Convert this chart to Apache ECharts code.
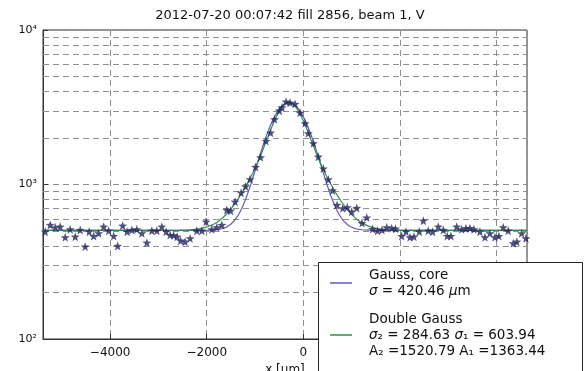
<!DOCTYPE html>
<html>
<head>
<meta charset="utf-8">
<script src="https://cdn.jsdelivr.net/npm/echarts@6/dist/echarts.min.js"></script>
<style>
  html, body { margin: 0; padding: 0; background: #fff; }
  #chart { width: 585px; height: 371px; }
</style>
</head>
<body>
<div id="chart"></div>
<script>
// Measured beam profile: position [um] and counts
const positions = [
  -5344, -5241, -5137, -5034, -4930, -4827, -4723, -4620, -4517, -4434,
  -4341, -4237, -4134, -4030, -3927, -3844, -3741, -3648, -3550, -3447,
  -3343, -3240, -3137, -3033, -2930, -2841, -2758, -2686, -2613, -2541,
  -2448, -2344, -2206, -2102, -2013, -1895, -1792, -1688, -1585, -1506,
  -1413, -1289, -1196, -1103, -989, -886, -772, -679, -596, -497,
  -441, -358, -275, -172, -68, 35, 103, 207, 310, 414,
  517, 604, 697, 815, 910, 1001, 1105, 1215, 1312, 1432,
  1535, 1628, 1726, 1829, 1908, 2036, 2125, 2208, 2290, 2400,
  2483, 2586, 2677, 2793, 2897, 2979, 3056, 3174, 3277, 3366,
  3449, 3532, 3656, 3759, 3863, 3966, 4049, 4138, 4241, 4345,
  4421, 4519, 4608
];
const counts = [
  495, 547, 528, 533, 455, 513, 459, 508, 396, 495,
  464, 483, 533, 502, 464, 400, 541, 495, 508, 513,
  483, 420, 502, 502, 533, 495, 471, 469, 459, 433,
  426, 448, 502, 502, 574, 513, 528, 547, 684, 677,
  774, 885, 971, 1081, 1298, 1500, 1912, 2164, 2642, 3005,
  3160, 3435, 3384, 3319, 2916, 2490, 2145, 1848, 1513, 1269,
  1078, 915, 737, 701, 712, 667, 705, 563, 611, 515,
  502, 508, 528, 521, 518, 464, 495, 455, 459, 495,
  583, 502, 495, 533, 508, 464, 464, 533, 513, 521,
  521, 513, 495, 455, 483, 455, 464, 528, 502, 416,
  426, 483, 448
];

// Fit parameters (sigma and amplitudes as quoted in the legend)
const fitCenter = -300;
const fitOffset = 505;
const coreSigma = 420.46;
const coreAmp = 2884;
const sigma2 = 284.63, sigma1 = 603.94;
const amp2 = 1520.79, amp1 = 1363.44;

// Axis range and decorations
const xRange = [-5390, 4630];
const yDecades = [100, 1000, 10000];
const yTickLabels = ['10\u00b2', '10\u00b3', '10\u2074'];
const yMinorGrid = [200, 300, 400, 500, 600, 700, 800, 900,
                    2000, 3000, 4000, 5000, 6000, 7000, 8000, 9000];

const gauss = (x, a, s) => a * Math.exp(-((x - fitCenter) ** 2) / (2 * s * s));
const curveX = [];
for (let x = xRange[0]; x <= xRange[1]; x += 20) curveX.push(x);
const coreCurve = curveX.map(x => [x, fitOffset + gauss(x, coreAmp, coreSigma)]);
const doubleCurve = curveX.map(x => [x, fitOffset + gauss(x, amp2, sigma2) + gauss(x, amp1, sigma1)]);

const FONT = 'DejaVu Sans';
const gridDash = { color: '#8f8f8f', width: 1, type: [6, 4] };
const STAR = 'path://M0,-10L2.35,-3.24L9.51,-3.09L3.8,1.24L5.88,8.09L0,4L-5.88,8.09L-3.8,1.24L-9.51,-3.09L-2.35,-3.24Z';

const legendText = {
  fontFamily: FONT, fontSize: 13.5, color: '#111', lineHeight: 16,
  padding: [0, 0, 0, 12],
  rich: { i: { fontStyle: 'italic', fontFamily: FONT, fontSize: 13.5, lineHeight: 16 } }
};
const legendBase = {
  orient: 'vertical', icon: 'rect',
  itemWidth: 22, itemHeight: 1.5,
  padding: 0, selectedMode: false,
  textStyle: legendText
};

const chart = echarts.init(document.getElementById('chart'), null, { renderer: 'canvas' });
chart.setOption({
  animation: false,
  backgroundColor: '#fff',
  textStyle: { fontFamily: FONT },
  title: {
    text: '2012-07-20 00:07:42 fill 2856, beam 1, V',
    left: 285, top: 4, textAlign: 'center',
    textStyle: { fontFamily: FONT, fontSize: 13, fontWeight: 'normal', color: '#111' }
  },
  grid: {
    left: 43, right: 58, top: 30, bottom: 32,
    outerBoundsMode: 'none',
    show: true, borderColor: '#333', borderWidth: 1, backgroundColor: 'transparent'
  },
  // legend frame
  graphic: [{
    type: 'rect', left: 318, top: 262, z: 50,
    shape: { width: 264, height: 120 },
    style: { fill: '#fff', stroke: '#222', lineWidth: 1 }
  }],
  legend: [
    Object.assign({}, legendBase, {
      data: ['Gauss, core'], left: 330, top: 267, z: 60,
      formatter: () => 'Gauss, core\n{i|\u03c3} = 420.46 {i|\u03bc}m'
    }),
    Object.assign({}, legendBase, {
      data: ['Double Gauss'], left: 330, top: 311, z: 60,
      formatter: () => 'Double Gauss\n{i|\u03c3}\u2082 = 284.63 {i|\u03c3}\u2081 = 603.94\nA\u2082 =1520.79 A\u2081 =1363.44'
    })
  ],
  xAxis: {
    type: 'value',
    min: xRange[0], max: xRange[1],
    splitNumber: 5,
    name: 'x [\u03bcm]',
    nameLocation: 'middle', nameGap: 24,
    nameTextStyle: { fontFamily: FONT, fontSize: 12, color: '#111' },
    axisLine: { onZero: false, lineStyle: { color: '#333' } },
    axisTick: { inside: true, length: 5, lineStyle: { color: '#333' } },
    axisLabel: {
      showMinLabel: false, showMaxLabel: false, margin: 8,
      fontFamily: FONT, fontSize: 12, color: '#111',
      formatter: v => String(v).replace('-', '\u2212')
    },
    splitLine: { show: true, lineStyle: gridDash }
  },
  yAxis: {
    type: 'log', logBase: 10,
    min: yDecades[0], max: yDecades[2],
    axisLine: { onZero: false, lineStyle: { color: '#333' } },
    axisTick: { inside: true, length: 5, lineStyle: { color: '#333' } },
    axisLabel: {
      margin: 6, fontFamily: FONT, fontSize: 11, color: '#111',
      formatter: v => yTickLabels[Math.round(Math.log10(v)) - 2] || ''
    },
    splitLine: { show: true, lineStyle: gridDash }
  },
  series: [
    {
      name: 'Gauss, core',
      type: 'line',
      data: coreCurve,
      showSymbol: false, symbol: 'none',
      lineStyle: { color: '#5c5cb8', width: 1.2 },
      itemStyle: { color: '#5c5cb8' },
      z: 3,
      markLine: {
        silent: true, symbol: 'none',
        label: { show: false },
        lineStyle: gridDash,
        data: yMinorGrid.map(v => ({ yAxis: v })),
        z: 1
      }
    },
    {
      name: 'Double Gauss',
      type: 'line',
      data: doubleCurve,
      showSymbol: false, symbol: 'none',
      lineStyle: { color: '#2f8f4a', width: 1.2 },
      itemStyle: { color: '#2f8f4a' },
      z: 4
    },
    {
      name: 'data',
      type: 'scatter',
      data: positions.map((x, i) => [x, counts[i]]),
      symbol: STAR,
      symbolSize: 9,
      itemStyle: { color: '#23235e' },
      z: 5
    }
  ]
});
</script>
</body>
</html>
